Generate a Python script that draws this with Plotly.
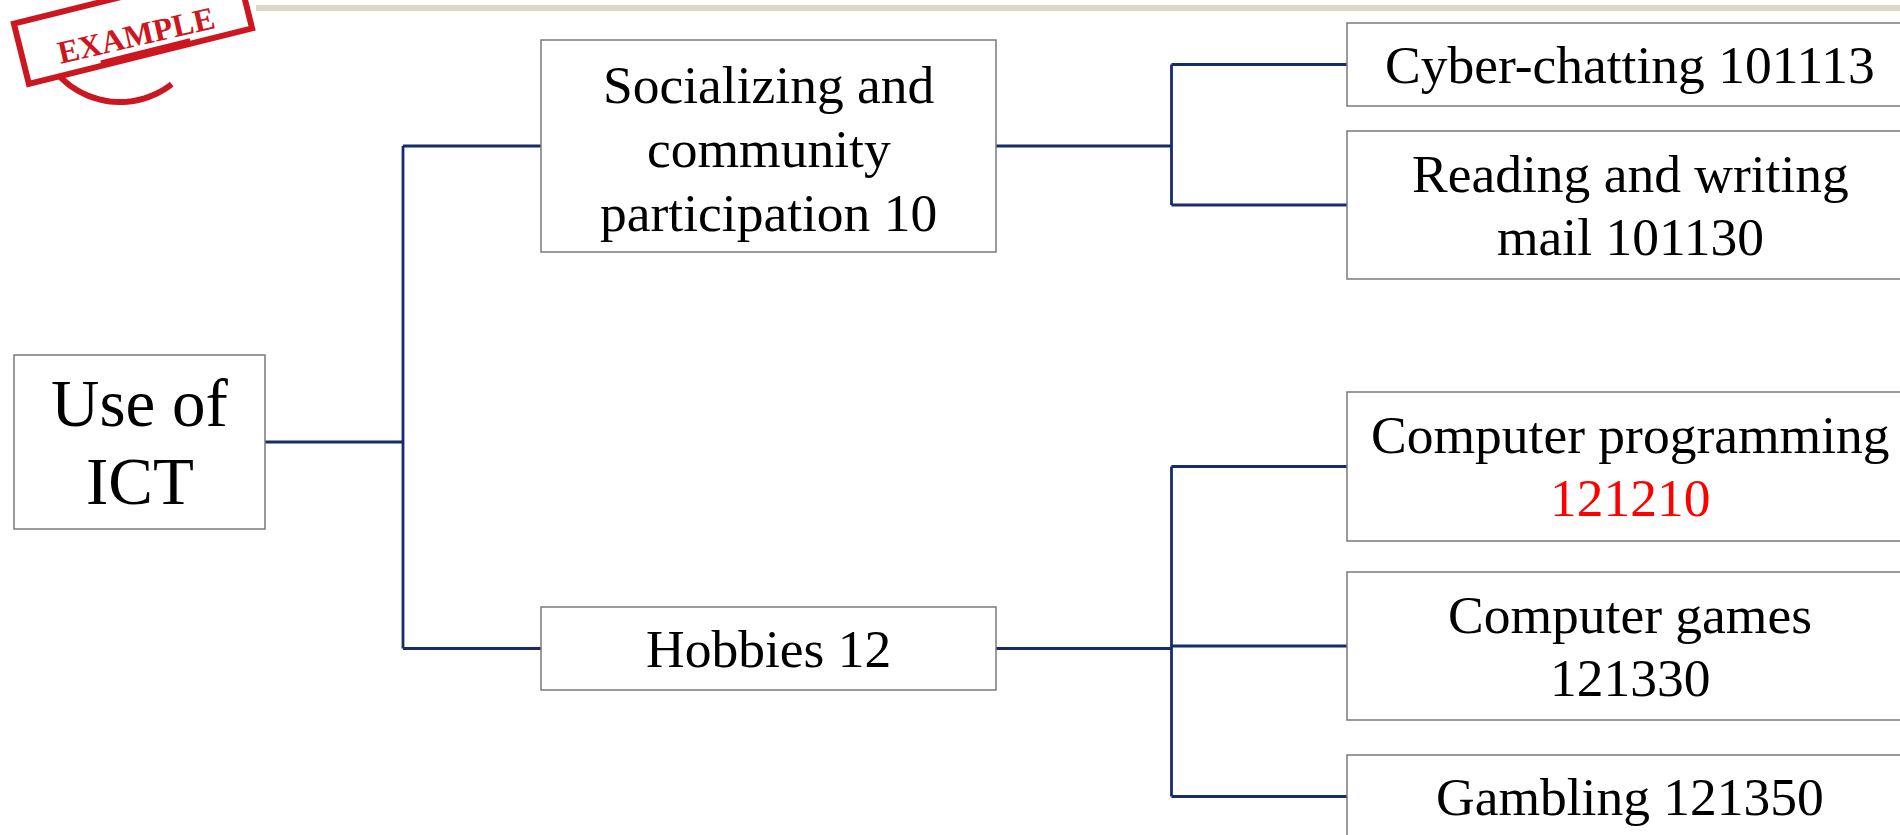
import math
import plotly.graph_objects as go

# ---------------- data ----------------
root_label = ["Use of", "ICT"]
level1_labels = [
    ["Socializing and", "community", "participation 10"],
    ["Hobbies 12"],
]
level2_labels = [
    [["Cyber-chatting 101113"], ["Reading and writing", "mail 101130"]],
    [["Computer programming", "121210"], ["Computer games", "121330"], ["Gambling 121350"]],
]
highlighted = ["121210"]
stamp_text = "EXAMPLE"

# ---------------- layout geometry (pixels) ----------------
W, H = 1900, 835
FONT = "Liberation Serif, Times New Roman, serif"
LINE_COLOR = "#172d69"
BOX_COLOR = "#7a7a7a"
STAMP_RED = "rgb(204,22,32)"

root_box = dict(x0=14, x1=265, y0=355, y1=529, size=67, gap=78, dy=0)
l1_x = (541, 996)
l1_boxes = [dict(y0=40, y1=252, size=53.5, gap=64, dy=3), dict(y0=607, y1=690, size=53.5, gap=60, dy=0)]
l2_x = (1347, 1913)
l2_boxes = [
    [dict(y0=23, y1=106), dict(y0=131, y1=279)],
    [dict(y0=392, y1=541), dict(y0=572, y1=720), dict(y0=755, y1=838)],
]
l2_size, l2_gap = 53.5, 63

fig = go.Figure()
shapes = []
annotations = []


def add_box(x0, x1, y0, y1, lines, size, gap, dy=0):
    shapes.append(dict(type="rect", xref="x", yref="y", x0=x0, x1=x1, y0=y0, y1=y1,
                       line=dict(color=BOX_COLOR, width=1.5), fillcolor="white", layer="above"))
    cy = (y0 + y1) / 2 + dy
    cx = (x0 + x1) / 2
    n = len(lines)
    for i, t in enumerate(lines):
        yy = cy + (i - (n - 1) / 2) * gap
        col = "#ff0000" if t in highlighted else "black"
        annotations.append(dict(x=cx, y=yy, xref="x", yref="y", text=t, showarrow=False,
                                xanchor="center", yanchor="middle",
                                font=dict(family=FONT, size=size, color=col)))


def connector(px, py, cx_left, child_ys):
    mid = (px + cx_left) / 2
    xs = [px, mid, None, mid, mid, None]
    ys = [py, py, None, min(child_ys + [py]), max(child_ys + [py]), None]
    for cy in child_ys:
        xs += [mid, cx_left, None]
        ys += [cy, cy, None]
    fig.add_trace(go.Scatter(x=xs, y=ys, mode="lines", hoverinfo="skip",
                             line=dict(color=LINE_COLOR, width=2.8), showlegend=False))


# connectors
root_cy = (root_box["y0"] + root_box["y1"]) / 2
l1_cys = [(b["y0"] + b["y1"]) / 2 for b in l1_boxes]
connector(root_box["x1"], root_cy, l1_x[0], l1_cys)
for i, grp in enumerate(l2_boxes):
    connector(l1_x[1], l1_cys[i], l2_x[0], [(b["y0"] + b["y1"]) / 2 for b in grp])

# boxes
add_box(root_box["x0"], root_box["x1"], root_box["y0"], root_box["y1"], root_label,
        root_box["size"], root_box["gap"])
for b, lab in zip(l1_boxes, level1_labels):
    add_box(l1_x[0], l1_x[1], b["y0"], b["y1"], lab, b["size"], b["gap"], b["dy"])
for grp, labs in zip(l2_boxes, level2_labels):
    for b, lab in zip(grp, labs):
        add_box(l2_x[0], l2_x[1], b["y0"], b["y1"], lab, l2_size, l2_gap)

# top decorative bar
shapes.append(dict(type="rect", xref="x", yref="y", x0=256, x1=1900, y0=5, y1=11,
                   line=dict(width=0), fillcolor="#dcd7c2", layer="below"))

# stamp
ang = math.radians(-14)
scx, scy = 133, 26
sw, sh = 230, 62


def rot(px, py):
    return (scx + px * math.cos(ang) - py * math.sin(ang),
            scy + px * math.sin(ang) + py * math.cos(ang))


# lower arc of the round stamp (drawn first, rectangle covers part of it)
arc_pts = []
for k in range(0, 31):
    t = math.radians(142 - k * 3.0)
    arc_pts.append((120 + 84 * math.cos(t), 18 + 84 * math.sin(t)))
arc_path = "M " + " L ".join(f"{x:.1f},{y:.1f}" for x, y in arc_pts)
shapes.append(dict(type="path", xref="x", yref="y", path=arc_path,
                   line=dict(color=STAMP_RED, width=6), layer="above"))
corners = [rot(-sw / 2, -sh / 2), rot(sw / 2, -sh / 2), rot(sw / 2, sh / 2), rot(-sw / 2, sh / 2)]
path = "M " + " L ".join(f"{x:.1f},{y:.1f}" for x, y in corners) + " Z"
shapes.append(dict(type="path", xref="x", yref="y", path=path,
                   line=dict(color=STAMP_RED, width=6), fillcolor="white", layer="above"))
# inner underline stroke
a1, a2 = rot(-40, 28), rot(52, 28)
shapes.append(dict(type="line", xref="x", yref="y", x0=a1[0], y0=a1[1], x1=a2[0], y1=a2[1],
                   line=dict(color=STAMP_RED, width=5), layer="above"))
annotations.append(dict(x=136, y=35, xref="x", yref="y", text=f"<b>{stamp_text}</b>",
                        showarrow=False, textangle=-13, xanchor="center", yanchor="middle",
                        font=dict(family=FONT, size=32, color=STAMP_RED)))

fig.update_layout(
    width=W, height=H, margin=dict(l=0, r=0, t=0, b=0),
    paper_bgcolor="white", plot_bgcolor="white",
    xaxis=dict(range=[0, W], visible=False, fixedrange=True),
    yaxis=dict(range=[H, 0], visible=False, fixedrange=True),
    shapes=shapes, annotations=annotations, showlegend=False,
)
fig.write_html(
    "out.html",
    config={"displayModeBar": False},
    post_script="document.body.style.margin='0';document.body.style.overflow='hidden';",
)
